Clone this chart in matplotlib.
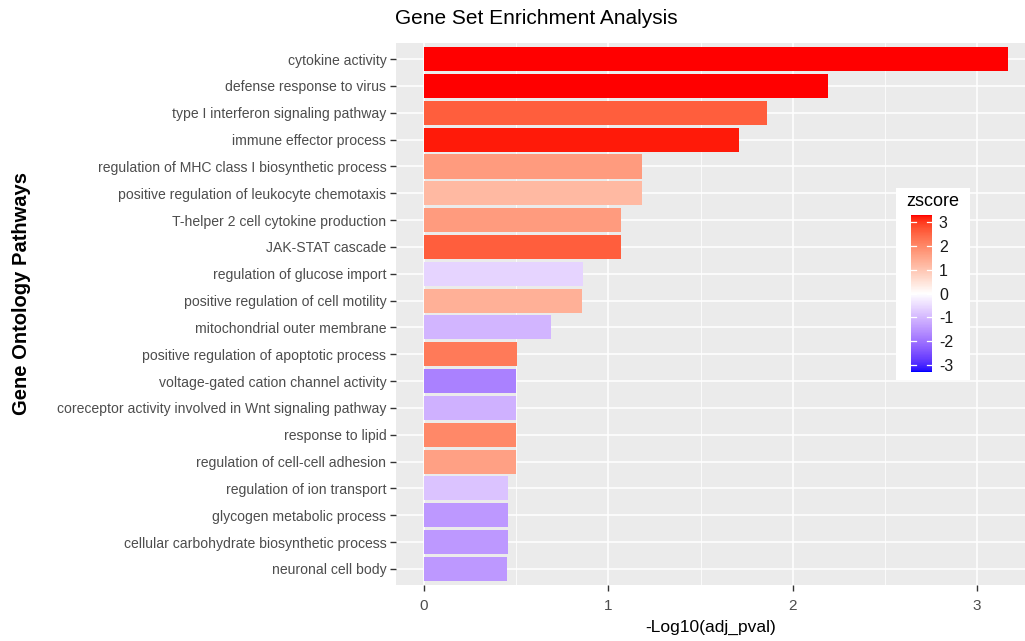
import numpy as np
import matplotlib
matplotlib.use("Agg")
import matplotlib.pyplot as plt
from matplotlib.colors import ListedColormap, Normalize
from matplotlib.ticker import MultipleLocator

plt.rcParams['font.family'] = ['Liberation Sans', 'DejaVu Sans']
plt.rcParams['axes.unicode_minus'] = False

pathways = [
    "cytokine activity",
    "defense response to virus",
    "type I interferon signaling pathway",
    "immune effector process",
    "regulation of MHC class I biosynthetic process",
    "positive regulation of leukocyte chemotaxis",
    "T-helper 2 cell cytokine production",
    "JAK-STAT cascade",
    "regulation of glucose import",
    "positive regulation of cell motility",
    "mitochondrial outer membrane",
    "positive regulation of apoptotic process",
    "voltage-gated cation channel activity",
    "coreceptor activity involved in Wnt signaling pathway",
    "response to lipid",
    "regulation of cell-cell adhesion",
    "regulation of ion transport",
    "glycogen metabolic process",
    "cellular carbohydrate biosynthetic process",
    "neuronal cell body",
]
neg_log10_padj = [3.17, 2.19, 1.86, 1.71, 1.185, 1.185, 1.07, 1.07, 0.86, 0.855,
                  0.69, 0.505, 0.50, 0.50, 0.50, 0.50, 0.456, 0.456, 0.456, 0.45]
zscore = [3.3, 3.3, 2.6, 3.2, 1.7, 1.2, 1.7, 2.6, -0.6, 1.35,
          -1.05, 2.2, -1.8, -1.1, 2.0, 1.6, -0.85, -1.45, -1.45, -1.45]


# blue-white-red gradient interpolated in CIELAB, like scale_fill_gradient2
def to_lab(rgb):
    c = np.asarray(rgb, float)
    c = np.where(c > 0.04045, ((c + 0.055) / 1.055) ** 2.4, c / 12.92)
    m = np.array([[0.4124, 0.3576, 0.1805],
                  [0.2126, 0.7152, 0.0722],
                  [0.0193, 0.1192, 0.9505]])
    xyz = m @ c / np.array([0.95047, 1.0, 1.08883])
    f = np.where(xyz > 0.008856, np.cbrt(xyz), 7.787 * xyz + 16 / 116)
    return np.array([116 * f[1] - 16, 500 * (f[0] - f[1]), 200 * (f[1] - f[2])])


def from_lab(lab):
    L, a, b = lab
    fy = (L + 16) / 116
    f = np.array([fy + a / 500, fy, fy - b / 200])
    xyz = np.where(f ** 3 > 0.008856, f ** 3, (f - 16 / 116) / 7.787)
    xyz = xyz * np.array([0.95047, 1.0, 1.08883])
    m = np.array([[3.2406, -1.5372, -0.4986],
                  [-0.9689, 1.8758, 0.0415],
                  [0.0557, -0.2040, 1.0570]])
    c = m @ xyz
    c = np.where(c > 0.0031308, 1.055 * np.clip(c, 0, None) ** (1 / 2.4) - 0.055, 12.92 * c)
    return np.clip(c, 0, 1)


blue, white, red = to_lab([0, 0, 1]), to_lab([1, 1, 1]), to_lab([1, 0, 0])
cols = []
for t in np.linspace(0, 1, 256):
    if t < 0.5:
        cols.append(from_lab(blue + (white - blue) * (t / 0.5)))
    else:
        cols.append(from_lab(white + (red - white) * ((t - 0.5) / 0.5)))
cmap = ListedColormap(cols)
norm = Normalize(vmin=-3.3, vmax=3.3)

fig = plt.figure(figsize=(10.25, 6.41), dpi=100)
ax = fig.add_axes([396 / 1025, 1 - 585 / 641, 1 - 396 / 1025, (585 - 43) / 641])
ax.set_facecolor("#EBEBEB")

ypos = np.arange(len(pathways))
ax.barh(ypos, neg_log10_padj, height=0.9, color=cmap(norm(np.array(zscore))), zorder=3)

ax.set_ylim(len(pathways) - 0.4, -0.6)
ax.set_xlim(-0.152, 3.26)
ax.set_yticks(ypos)
ax.set_yticklabels(pathways)
ax.xaxis.set_major_locator(MultipleLocator(1))
ax.xaxis.set_minor_locator(MultipleLocator(0.5))
ax.grid(which="major", color="white", linewidth=1.1, zorder=0)
ax.grid(which="minor", axis="x", color="white", linewidth=0.55, zorder=0)
for s in ax.spines.values():
    s.set_visible(False)
ax.tick_params(which="major", length=4, width=1, color="#333333",
               labelsize=10.1, labelcolor="#4D4D4D", pad=3)
ax.tick_params(axis="x", labelsize=11, pad=6)
ax.tick_params(which="minor", length=0)

ax.set_xlabel("-Log10(adj_pval)", fontsize=12.5, labelpad=5)
fig.text(22 / 1025, 1 - 293 / 641, "Gene Ontology Pathways", rotation=90,
         fontsize=14.5, fontweight="bold", ha="center", va="center")
fig.text(536 / 1025, 1 - 19 / 641, "Gene Set Enrichment Analysis",
         fontsize=15, ha="center", va="center")

# legend panel with colourbar
lax = fig.add_axes([896 / 1025, 1 - 380 / 641, 74 / 1025, 192 / 641])
lax.set_xticks([])
lax.set_yticks([])
for s in lax.spines.values():
    s.set_visible(False)
lax.set_facecolor("white")
lax.text(0.5, 0.93, "zscore", transform=lax.transAxes, fontsize=13,
         ha="center", va="center")
cax = fig.add_axes([911 / 1025, 1 - 372 / 641, 21 / 1025, 157 / 641])
cb = fig.colorbar(plt.cm.ScalarMappable(norm=norm, cmap=cmap), cax=cax,
                  ticks=[-3, -2, -1, 0, 1, 2, 3])
cb.outline.set_visible(False)
cax.tick_params(length=0, labelsize=11.5, labelcolor="#1A1A1A", pad=5)
for t in [-3, -2, -1, 0, 1, 2, 3]:
    cax.plot([0, 0.22], [t, t], color="white", lw=0.9)
    cax.plot([0.78, 1], [t, t], color="white", lw=0.9)

fig.savefig("out.png", dpi=100)
